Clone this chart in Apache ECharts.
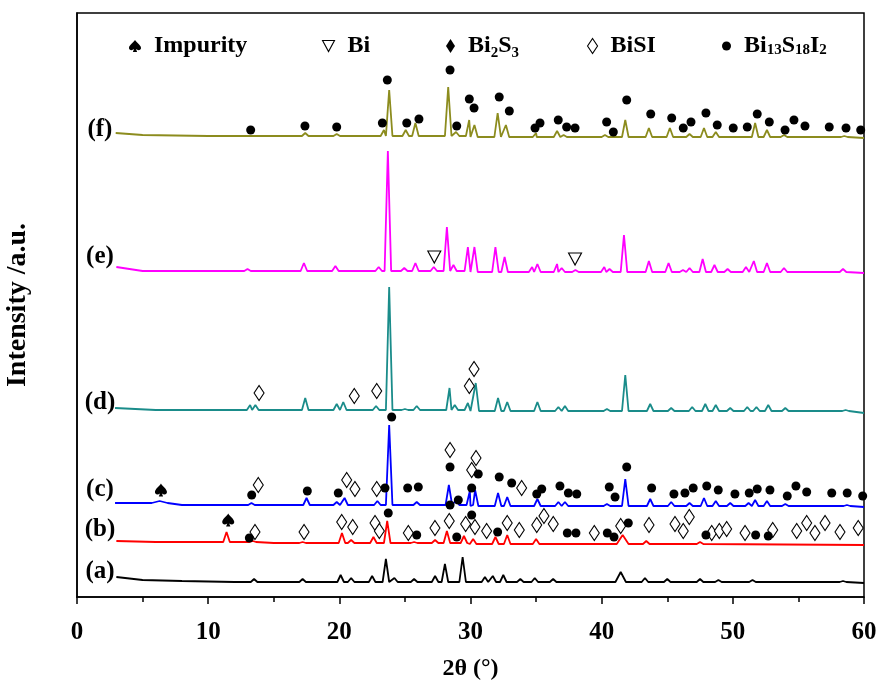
<!DOCTYPE html>
<html><head><meta charset="utf-8">
<script src="https://cdn.jsdelivr.net/npm/echarts@6/dist/echarts.min.js"></script>
<style>html,body{margin:0;padding:0;background:#fff}#c{width:881px;height:684px}</style>
</head><body><div id="c"></div>
<script>
// ---- data (2θ in degrees, intensity in a.u. with vertical offsets) ----
const xTicks = [0, 10, 20, 30, 40, 50, 60];
const traceNames = ['(a)', '(b)', '(c)', '(d)', '(e)', '(f)'];
const traceLabelPos = [[1.75, 25], [1.75, 67], [1.75, 107], [1.75, 194], [1.75, 340], [1.75, 467]];

const aBase = [[3.0, 20], [5, 17], [8, 16], [12, 15], [30, 15], [60, 14]];
const aPeaks = [[13.5, 18], [17.2, 18], [20.1, 22], [20.9, 19], [22.5, 21], [23.55, 38], [24.2, 19], [25.7, 18], [27.3, 21], [28.05, 33], [29.4, 40], [31.1, 20], [31.7, 21], [32.5, 22], [33.8, 18], [34.9, 19], [36.3, 18], [41.45, 25, 0.4], [43.3, 19], [45.0, 18], [47.5, 18], [48.9, 17], [51.5, 17], [58.4, 16]];

const bBase = [[3.0, 56], [6, 55], [15, 54], [30, 53], [60, 52]];
const bPeaks = [[11.4, 65], [13.4, 56], [17.2, 55], [20.2, 64], [20.9, 57], [22.6, 60], [23.65, 76], [25.7, 55], [27.3, 57], [28.2, 66], [29.5, 61], [30.2, 58], [31.9, 60], [32.8, 62], [35.0, 58], [41.6, 62, 0.45], [43.4, 56], [47.5, 55]];

const cBase = [[2.9, 94], [8, 92], [30, 91], [60, 90]];
const cPeaks = [[6.3, 96, 0.6], [13.3, 94], [17.5, 99], [19.8, 95], [20.4, 99], [22.9, 96], [23.8, 172], [25.9, 95], [28.35, 112], [28.9, 97], [29.95, 106], [30.35, 107], [32.1, 104], [32.8, 100], [35.1, 98], [36.7, 95], [37.2, 95], [40.4, 93], [40.8, 93], [41.8, 118], [43.7, 98], [45.3, 95], [46.7, 94], [47.8, 99], [48.7, 96], [49.8, 94], [51.2, 94], [51.7, 97], [52.6, 96], [54.0, 93], [58.7, 92]];

const dBase = [[2.9, 189], [6, 187], [30, 186], [60, 184]];
const dPeaks = [[13.2, 192], [13.6, 192], [17.4, 199], [19.8, 193], [20.3, 195], [22.8, 191], [23.8, 310], [25.0, 188], [25.9, 191], [28.4, 209], [28.8, 192], [29.8, 194], [30.4, 214], [32.1, 199], [32.8, 195], [35.1, 195], [36.7, 190], [37.2, 191], [40.4, 188], [41.8, 222], [43.7, 193], [45.3, 189], [46.9, 190], [47.9, 193], [48.7, 192], [49.8, 189], [51.1, 190], [51.8, 190], [52.7, 192], [54.0, 189], [58.6, 187]];

const eBase = [[3.0, 330], [5, 326], [30, 325], [60, 324]];
const ePeaks = [[13.0, 328], [17.3, 334], [19.7, 331], [23.0, 330], [23.7, 446], [24.95, 329], [25.8, 334], [27.2, 330], [28.2, 370], [28.7, 332], [29.8, 350], [30.3, 350], [31.9, 350], [32.6, 340], [34.7, 330], [35.1, 333], [36.6, 333], [36.95, 329], [38.0, 327], [40.2, 330], [40.6, 328], [41.7, 362], [43.6, 336], [45.1, 334], [46.2, 327], [46.7, 329], [47.7, 338], [48.6, 332], [49.6, 328], [51.0, 330], [51.6, 336], [52.6, 334], [53.9, 329], [58.4, 328]];

const fBase = [[2.95, 464], [5, 462], [10, 461], [30, 460], [60, 459]];
const fPeaks = [[17.4, 464], [19.8, 463], [23.4, 467], [23.8, 507], [25.06, 467], [25.8, 474], [28.3, 510], [28.9, 465], [29.9, 477], [30.3, 472], [32.07, 484], [32.7, 472], [34.8, 462], [35.0, 464], [36.6, 466], [37.1, 462], [40.25, 462], [40.6, 461], [41.8, 477], [43.6, 469], [45.2, 469], [46.7, 463], [47.8, 469], [48.7, 465], [51.7, 474], [52.6, 467], [53.9, 462], [58.5, 461]];

// phase markers
const impurityPts = [[6.40, 107], [11.53, 77]];
const biPts = [[27.24, 340], [37.97, 338]];
const bi2s3Pts = [];
const bisiPts = [
  // (d)
  [13.88, 204], [21.14, 201], [22.85, 206], [29.91, 211], [30.27, 228],
  // (c)
  [13.82, 112], [20.56, 117], [21.19, 108], [22.85, 108], [28.44, 147], [30.09, 127], [30.42, 139], [33.90, 109],
  // (b)
  [13.57, 65], [17.31, 65], [20.18, 75], [21.02, 70], [22.72, 74], [23.05, 66], [25.26, 64], [27.29, 69], [28.38, 76], [29.63, 73], [30.34, 70], [31.23, 66], [32.80, 74], [33.72, 67], [35.05, 72], [35.60, 81], [36.31, 73], [39.44, 64], [41.45, 71], [43.61, 72], [45.59, 73], [46.22, 66], [46.68, 80], [48.39, 64], [48.97, 66], [49.53, 68], [50.93, 64], [53.04, 67], [54.87, 66], [55.63, 74], [56.26, 64], [57.03, 74], [58.17, 65], [59.56, 69]
];
const bi13Pts = [
  // (f)
  [13.24, 467], [17.38, 471], [19.80, 470], [23.28, 474], [23.66, 517], [25.14, 474], [26.07, 478], [28.44, 527], [28.95, 471], [29.91, 498], [30.27, 489], [32.19, 500], [32.96, 486], [34.92, 469], [35.30, 474], [36.69, 477], [37.33, 470], [37.97, 469], [40.38, 475], [40.89, 465], [41.91, 497], [43.74, 483], [45.34, 479], [46.22, 469], [46.81, 475], [47.95, 484], [48.81, 472], [50.03, 469], [51.10, 470], [51.86, 483], [52.78, 475], [53.98, 467], [54.66, 477], [55.50, 471], [57.35, 470], [58.63, 469], [59.75, 467],
  // (c)
  [13.32, 102], [17.56, 106], [19.92, 104], [23.48, 109], [23.99, 180], [25.21, 109], [26.02, 110], [28.44, 130], [29.07, 97], [30.09, 109], [30.59, 123], [32.19, 120], [33.14, 114], [35.05, 103], [35.43, 108], [36.82, 111], [37.46, 104], [38.10, 103], [40.58, 110], [41.02, 100], [41.91, 130], [43.81, 109], [45.51, 103], [46.35, 104], [46.98, 109], [48.01, 111], [48.89, 107], [50.16, 103], [51.25, 104], [51.86, 108], [52.83, 107], [54.15, 101], [54.81, 111], [55.63, 105], [57.54, 104], [58.72, 104], [59.90, 101],
  // (b)
  [13.14, 59], [23.73, 84], [25.90, 62], [28.44, 92], [28.95, 60], [30.09, 82], [32.07, 65], [37.38, 64], [38.04, 64], [40.43, 64], [40.94, 60], [42.03, 74], [47.95, 62], [51.74, 62], [52.70, 61]
];

// ---- build polyline vertices from read baseline + peaks ----
function baseAt(base, x) {
  let v = base[0][1];
  for (const k of base) if (k[0] <= x) v = k[1];
  return v;
}
function buildTrace(base, peaks) {
  const pts = base.map(p => [p[0], p[1]]);
  for (const p of peaks) {
    const w = p[2] || 0.25;
    const b = baseAt(base, p[0]);
    pts.push([p[0] - w, b], [p[0], p[1]], [p[0] + w, b]);
  }
  pts.sort((a, b) => a[0] - b[0]);
  return pts;
}

const traces = [
  { base: aBase, peaks: aPeaks, color: '#000000' },
  { base: bBase, peaks: bPeaks, color: '#ff0000' },
  { base: cBase, peaks: cPeaks, color: '#0000ff' },
  { base: dBase, peaks: dPeaks, color: '#1a8c8a' },
  { base: eBase, peaks: ePeaks, color: '#ff00ff' },
  { base: fBase, peaks: fPeaks, color: '#8c8c1e' }
];

const FONT = "'Liberation Serif', 'Times New Roman', serif";
const spade = 'path://M50,0 C35,25 0,42 0,66 C0,84 22,92 42,76 L32,100 L68,100 L58,76 C78,92 100,84 100,66 C100,42 65,25 50,0 Z';
const triDown = 'path://M0,0 L100,0 L50,92 Z';

const series = [];
traces.forEach((t, i) => {
  series.push({
    type: 'line', data: buildTrace(t.base, t.peaks), showSymbol: false, symbol: 'none',
    lineStyle: { color: t.color, width: 1.8 }, z: 2, silent: true, animation: false
  });
});
series.push({
  type: 'scatter', data: traceLabelPos.map((p, i) => ({ value: p, name: traceNames[i] })),
  symbolSize: 40, itemStyle: { color: 'rgba(0,0,0,0)', opacity: 1 }, silent: true, animation: false, clip: false,
  label: { show: true, position: 'inside', formatter: p => p.name, fontFamily: FONT, fontWeight: 'bold', fontSize: 25, color: '#000', opacity: 1 }
});
const hollow = { color: '#ffffff', borderColor: '#000', borderWidth: 1.1, opacity: 1 };
const solid = { color: '#000', opacity: 1 };
series.push({ name: 'Impurity', type: 'scatter', data: impurityPts, symbol: spade, symbolSize: [12, 13], itemStyle: solid, z: 5, animation: false });
series.push({ name: 'Bi', type: 'scatter', data: biPts, symbol: triDown, symbolSize: [13, 12], itemStyle: hollow, z: 5, animation: false });
series.push({ name: 'Bi2S3', type: 'scatter', data: bi2s3Pts, symbol: 'diamond', symbolSize: [9, 14], itemStyle: solid, z: 5, animation: false });
series.push({ name: 'BiSI', type: 'scatter', data: bisiPts, symbol: 'diamond', symbolSize: [10, 15], itemStyle: hollow, z: 5, animation: false });
series.push({ name: 'Bi13S18I2', type: 'scatter', data: bi13Pts, symbol: 'circle', symbolSize: 9, itemStyle: solid, z: 6, animation: false, clip: false });

const legendRich = {
  m: { fontFamily: FONT, fontWeight: 'bold', fontSize: 24, color: '#000' },
  s: { fontFamily: FONT, fontWeight: 'bold', fontSize: 15, color: '#000', verticalAlign: 'top', padding: [15, 0, 0, 0] },
  t: { fontFamily: FONT, fontWeight: 'bold', fontSize: 15, color: '#000', verticalAlign: 'bottom', padding: [0, 0, 0, 0] }
};
const legendText = {
  'Impurity': '{m|Impurity}',
  'Bi': '{m|Bi}',
  'Bi2S3': '{m|Bi}{s|2}{m|S}{s|3}',
  'BiSI': '{m|BiSI}',
  'Bi13S18I2': '{m|Bi}{t|13}{m|S}{t|18}{m|I}{t|2}'
};
const legendLefts = { 'Impurity': 124, 'Bi': 317, 'Bi2S3': 441, 'BiSI': 582, 'Bi13S18I2': 717 };
const legendIcons = { 'Impurity': spade, 'Bi': triDown, 'Bi2S3': 'diamond', 'BiSI': 'diamond', 'Bi13S18I2': 'circle' };
const legendSizes = { 'Impurity': [12, 13], 'Bi': [12, 11], 'Bi2S3': [9, 14], 'BiSI': [10, 15], 'Bi13S18I2': [9, 9] };
const legends = Object.keys(legendLefts).map(n => ({
  data: [{ name: n, icon: legendIcons[n] }],
  left: legendLefts[n], top: 29, selectedMode: false,
  itemWidth: legendSizes[n][0], itemHeight: legendSizes[n][1],
  itemStyle: (n === 'Bi' || n === 'BiSI') ? hollow : solid,
  formatter: name => legendText[name],
  textStyle: { rich: legendRich, padding: [0, 0, 0, 8] }
}));

const chart = echarts.init(document.getElementById('c'), null, { renderer: 'canvas' });
chart.setOption({
  animation: false,
  backgroundColor: '#fff',
  grid: { left: 77, right: 17, top: 13, bottom: 87, show: true, borderColor: '#000', borderWidth: 1.5, backgroundColor: 'transparent', containLabel: false, outerBoundsMode: 'none' },
  legend: legends,
  xAxis: {
    type: 'value', min: xTicks[0], max: xTicks[xTicks.length - 1], interval: 10,
    name: '2θ (°)', nameLocation: 'middle', nameGap: 60,
    nameTextStyle: { fontFamily: FONT, fontWeight: 'bold', fontSize: 24, color: '#000' },
    axisLine: { show: true, lineStyle: { color: '#000', width: 1.5 } },
    axisTick: { show: true, inside: false, length: 7, lineStyle: { color: '#000', width: 1.5 } },
    minorTick: { show: true, splitNumber: 2, length: 5, lineStyle: { color: '#000', width: 1.5 } },
    splitLine: { show: false },
    axisLabel: { margin: 23, fontFamily: FONT, fontWeight: 'bold', fontSize: 25, color: '#000' }
  },
  yAxis: {
    type: 'value', min: 0, max: 584,
    name: 'Intensity /a.u.', nameLocation: 'middle', nameGap: 45,
    nameTextStyle: { fontFamily: FONT, fontWeight: 'bold', fontSize: 28, color: '#000' },
    axisLine: { show: true, lineStyle: { color: '#000', width: 1.5 } },
    axisTick: { show: false }, axisLabel: { show: false }, splitLine: { show: false }
  },
  series: series
});
</script>
</body></html>
